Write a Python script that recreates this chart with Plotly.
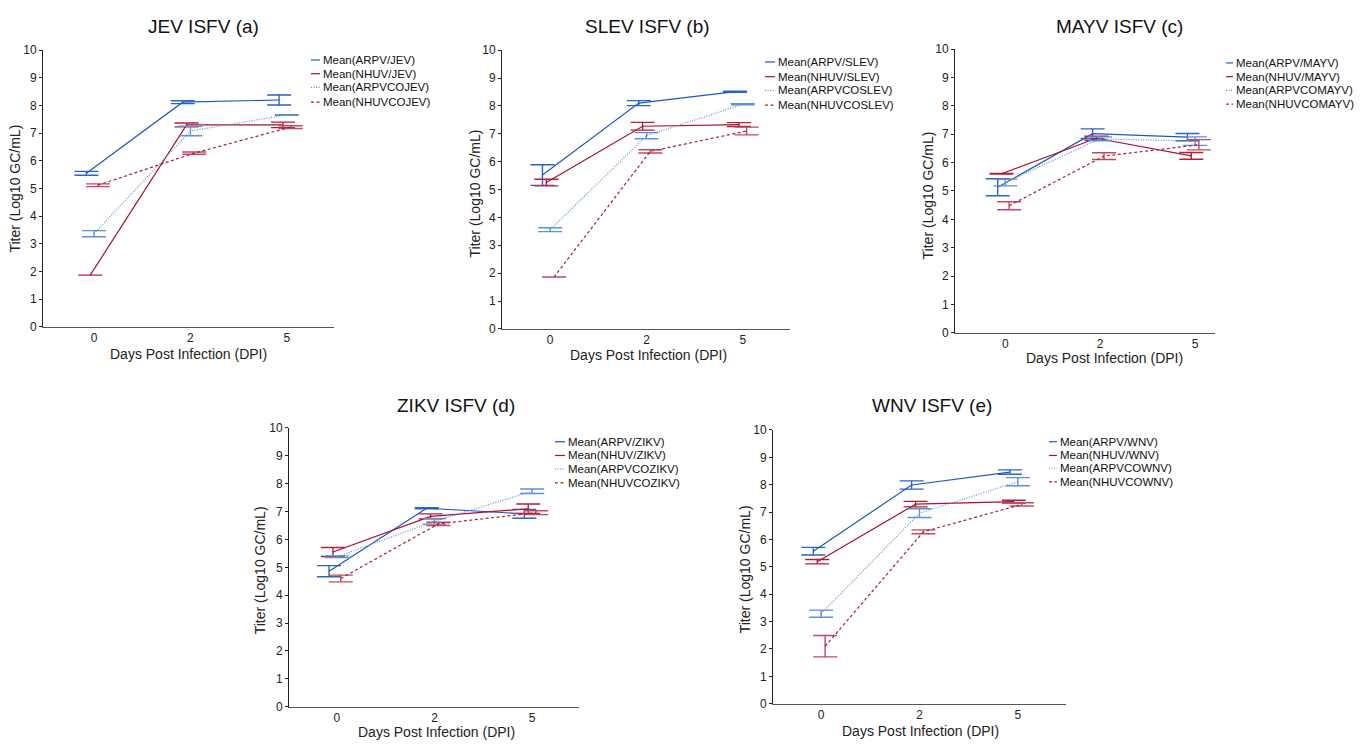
import plotly.graph_objects as go

W, H = 1366, 750
FONT = "Liberation Sans, Arial, Helvetica, sans-serif"

# ---------------- data ----------------
DAY_LABELS = ["0", "2", "5"]
GROUPS = ["ARPV", "NHUV", "ARPVCO", "NHUVCO"]

VIRUSES = ["JEV", "SLEV", "MAYV", "ZIKV", "WNV"]
TITLES = ["JEV ISFV (a)", "SLEV ISFV (b)", "MAYV ISFV (c)", "ZIKV ISFV (d)", "WNV ISFV (e)"]

# JEV
JEV_ARPV = [5.55, 8.12, 8.20]
JEV_ARPV_ERR = [0.07, 0.05, 0.18]
JEV_NHUV = [1.87, 7.30, 7.30]
JEV_NHUV_ERR = [0.00, 0.07, 0.10]
JEV_ARPVCO = [3.37, 7.08, 7.66]
JEV_ARPVCO_ERR = [0.11, 0.17, 0.01]
JEV_NHUVCO = [5.12, 6.28, 7.22]
JEV_NHUVCO_ERR = [0.05, 0.04, 0.05]

# SLEV
SLEV_ARPV = [5.52, 8.10, 8.51]
SLEV_ARPV_ERR = [0.37, 0.09, 0.02]
SLEV_NHUV = [5.25, 7.27, 7.33]
SLEV_NHUV_ERR = [0.12, 0.14, 0.07]
SLEV_ARPVCO = [3.56, 6.93, 8.06]
SLEV_ARPVCO_ERR = [0.07, 0.11, 0.02]
SLEV_NHUVCO = [1.86, 6.37, 7.10]
SLEV_NHUVCO_ERR = [0.00, 0.06, 0.14]

# MAYV
MAYV_ARPV = [5.13, 7.02, 6.90]
MAYV_ARPV_ERR = [0.30, 0.17, 0.13]
MAYV_NHUV = [5.61, 6.86, 6.24]
MAYV_NHUV_ERR = [0.01, 0.07, 0.12]
MAYV_ARPVCO = [5.30, 6.84, 6.76]
MAYV_ARPVCO_ERR = [0.12, 0.07, 0.15]
MAYV_NHUVCO = [4.48, 6.23, 6.63]
MAYV_NHUVCO_ERR = [0.14, 0.12, 0.18]

# ZIKV
ZIKV_ARPV = [4.86, 7.12, 6.92]
ZIKV_ARPV_ERR = [0.20, 0.02, 0.16]
ZIKV_NHUV = [5.55, 6.83, 7.10]
ZIKV_NHUV_ERR = [0.16, 0.09, 0.17]
ZIKV_ARPVCO = [5.38, 6.65, 7.73]
ZIKV_ARPVCO_ERR = [0.03, 0.10, 0.08]
ZIKV_NHUVCO = [4.60, 6.56, 6.96]
ZIKV_NHUVCO_ERR = [0.12, 0.06, 0.07]

# WNV
WNV_ARPV = [5.57, 7.99, 8.46]
WNV_ARPV_ERR = [0.14, 0.15, 0.08]
WNV_NHUV = [5.19, 7.29, 7.38]
WNV_NHUV_ERR = [0.08, 0.10, 0.05]
WNV_ARPVCO = [3.29, 6.96, 8.11]
WNV_ARPVCO_ERR = [0.13, 0.16, 0.15]
WNV_NHUVCO = [2.10, 6.28, 7.28]
WNV_NHUVCO_ERR = [0.39, 0.07, 0.06]

DATA = {
    "JEV": [(JEV_ARPV, JEV_ARPV_ERR), (JEV_NHUV, JEV_NHUV_ERR),
            (JEV_ARPVCO, JEV_ARPVCO_ERR), (JEV_NHUVCO, JEV_NHUVCO_ERR)],
    "SLEV": [(SLEV_ARPV, SLEV_ARPV_ERR), (SLEV_NHUV, SLEV_NHUV_ERR),
             (SLEV_ARPVCO, SLEV_ARPVCO_ERR), (SLEV_NHUVCO, SLEV_NHUVCO_ERR)],
    "MAYV": [(MAYV_ARPV, MAYV_ARPV_ERR), (MAYV_NHUV, MAYV_NHUV_ERR),
             (MAYV_ARPVCO, MAYV_ARPVCO_ERR), (MAYV_NHUVCO, MAYV_NHUVCO_ERR)],
    "ZIKV": [(ZIKV_ARPV, ZIKV_ARPV_ERR), (ZIKV_NHUV, ZIKV_NHUV_ERR),
             (ZIKV_ARPVCO, ZIKV_ARPVCO_ERR), (ZIKV_NHUVCO, ZIKV_NHUVCO_ERR)],
    "WNV": [(WNV_ARPV, WNV_ARPV_ERR), (WNV_NHUV, WNV_NHUV_ERR),
            (WNV_ARPVCO, WNV_ARPVCO_ERR), (WNV_NHUVCO, WNV_NHUVCO_ERR)],
}

def legend_name(group, virus):
    return f"Mean({group}/{virus})" if not group.endswith("CO") else f"Mean({group}{virus})"

# ---------------- styles ----------------
STYLE = [
    dict(color="#1c58c2", dash="solid", err="#2a64c8", off=-0.08),
    dict(color="#a8102f", dash="solid", err="#b3203c", off=-0.04),
    dict(color="#5b8fdc", dash="1px,1.5px", err="#5d90da", off=0.0),
    dict(color="#b01a3a", dash="3px,2.5px", err="#c04a60", off=0.04),
]

# panel pixel boxes
PANELS = [
    dict(x0=43, x1=334, yt=44, yb=326, xr=[-0.53, 2.49], title=(203, 20),
         xt=(188, 354), yti=(15, 185),
         leg=dict(d0=311, d1=320, tx=321, rows=[54, 68, 82, 97])),
    dict(x0=502, x1=790, yt=44, yb=328, xr=[-0.50, 2.49], title=(647, 20),
         xt=(648, 355), yti=(475, 190),
         leg=dict(d0=765, d1=775, tx=776, rows=[56, 71, 85, 100])),
    dict(x0=955, x1=1215, yt=43, yb=332, xr=[-0.53, 2.21], title=(1119, 20),
         xt=(1104, 358), yti=(928, 192),
         leg=dict(d0=1226, d1=1233, tx=1234, rows=[57, 71, 85, 99])),
    dict(x0=289, x1=579, yt=429, yb=713, xr=[-0.49, 2.48], title=(456, 406),
         xt=(436, 739), yti=(260, 574),
         leg=dict(d0=555, d1=565, tx=566, rows=[443, 457, 471, 485])),
    dict(x0=773, x1=1066, yt=431, yb=710, xr=[-0.49, 2.49], title=(932, 406),
         xt=(920, 738), yti=(745, 573),
         leg=dict(d0=1049, d1=1057, tx=1058, rows=[443, 457, 470, 484])),
]

def px(x):
    return x / W

def py(y):
    return 1 - y / H

fig = go.Figure()
annotations = []
shapes = []

for i, (virus, title, P) in enumerate(zip(VIRUSES, TITLES, PANELS)):
    n = "" if i == 0 else str(i + 1)
    xa, ya = "x" + n, "y" + n
    for g, (grp, st) in enumerate(zip(GROUPS, STYLE)):
        means, errs = DATA[virus][g]
        xs = [k + st["off"] for k in range(len(DAY_LABELS))]
        fig.add_trace(go.Scatter(
            x=xs, y=means, mode="lines", xaxis=xa, yaxis=ya,
            name=legend_name(grp, virus), showlegend=False,
            line=dict(color=st["color"], width=1.2, dash=st["dash"]),
            error_y=dict(type="data", array=errs, visible=True,
                         color=st["err"], thickness=1.4, width=12),
        ))
        # legend entries
        L = P["leg"]
        r = L["rows"][g]
        shapes.append(dict(type="line", xref="paper", yref="paper",
                           x0=px(L["d0"]), x1=px(L["d1"]), y0=py(r), y1=py(r),
                           line=dict(color=st["color"], width=1.2, dash=st["dash"])))
        annotations.append(dict(x=px(L["tx"]), y=py(r), xref="paper", yref="paper",
                                text=legend_name(grp, virus), showarrow=False,
                                xanchor="left", yanchor="middle",
                                font=dict(family=FONT, size=11.5, color="#111")))

    fig.layout["xaxis" + n] = dict(
        domain=[px(P["x0"]), px(P["x1"])], anchor=ya, range=P["xr"],
        tickmode="array", tickvals=[0, 1, 2], ticktext=DAY_LABELS,
        showline=True, linecolor="#555", linewidth=1, ticks="",
        showgrid=False, zeroline=False,
        tickfont=dict(family=FONT, size=12, color="#222"),
    )
    fig.layout["yaxis" + n] = dict(
        domain=[py(P["yb"]), py(P["yt"])], anchor=xa, range=[0, 10],
        tickmode="array", tickvals=list(range(0, 11)),
        showline=True, linecolor="#222", linewidth=1,
        ticks="outside", ticklen=3, tickcolor="#222",
        showgrid=False, zeroline=False,
        tickfont=dict(family=FONT, size=12, color="#222"),
    )
    annotations.append(dict(x=px(P["title"][0]), y=py(P["title"][1]), xref="paper", yref="paper",
                            text=title, showarrow=False, xanchor="center", yanchor="middle",
                            font=dict(family=FONT, size=19, color="#111")))
    annotations.append(dict(x=px(P["xt"][0]), y=py(P["xt"][1]), xref="paper", yref="paper",
                            text="Days Post Infection (DPI)", showarrow=False,
                            xanchor="center", yanchor="middle",
                            font=dict(family=FONT, size=14, color="#222")))
    annotations.append(dict(x=px(P["yti"][0]), y=py(P["yti"][1]), xref="paper", yref="paper",
                            text="Titer (Log10 GC/mL)", showarrow=False, textangle=-90,
                            xanchor="center", yanchor="middle",
                            font=dict(family=FONT, size=14, color="#222")))

fig.update_layout(
    width=W, height=H, margin=dict(l=0, r=0, t=0, b=0),
    paper_bgcolor="white", plot_bgcolor="white",
    showlegend=False, annotations=annotations, shapes=shapes,
)

fig.write_html("out.html", config={"displayModeBar": False})
